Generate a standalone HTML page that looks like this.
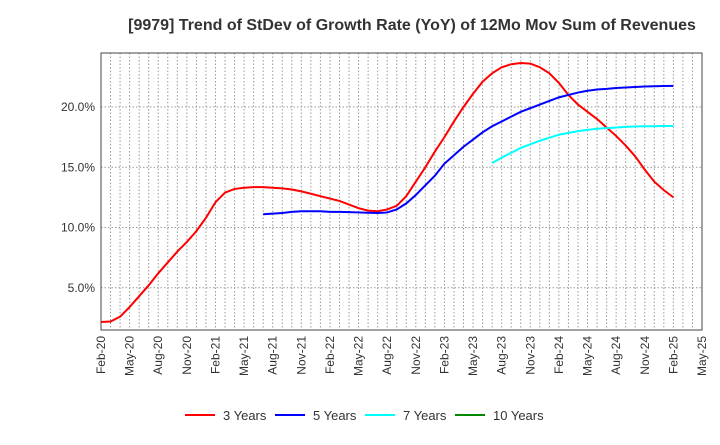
<!DOCTYPE html>
<html><head><meta charset="utf-8"><style>
body{margin:0;background:#fff;font-family:"Liberation Sans",sans-serif}
svg text{font-family:"Liberation Sans",sans-serif}
</style></head><body>
<svg id="chart" width="720" height="440">
<text x="412" y="30" text-anchor="middle" font-size="16" font-weight="bold" fill="#333">[9979]  Trend of StDev of Growth Rate (YoY) of 12Mo Mov Sum of Revenues</text>
<g id="grid"></g><g id="axes"></g><g id="series"></g><g id="legend"></g>
</svg>
<script>
const xTickLabels=["Feb-20","May-20","Aug-20","Nov-20","Feb-21","May-21","Aug-21","Nov-21","Feb-22","May-22","Aug-22","Nov-22","Feb-23","May-23","Aug-23","Nov-23","Feb-24","May-24","Aug-24","Nov-24","Feb-25","May-25"];
const yTicks=[5,10,15,20];
const red=[2.16,2.2,2.6,3.4,4.3,5.2,6.2,7.1,8.0,8.8,9.7,10.8,12.1,12.9,13.2,13.3,13.35,13.35,13.3,13.25,13.15,13.0,12.8,12.6,12.4,12.2,11.9,11.6,11.4,11.35,11.5,11.8,12.6,13.8,15.0,16.3,17.5,18.8,20.0,21.1,22.1,22.8,23.3,23.55,23.65,23.6,23.3,22.8,22.0,21.0,20.2,19.6,19.0,18.3,17.6,16.8,15.9,14.8,13.8,13.1,12.5];
const blueStart=17;
const blue=[11.1,11.15,11.2,11.3,11.35,11.35,11.35,11.3,11.3,11.28,11.25,11.22,11.2,11.25,11.5,12.0,12.7,13.5,14.3,15.3,16.0,16.7,17.3,17.9,18.4,18.8,19.2,19.6,19.9,20.2,20.5,20.8,21.0,21.2,21.35,21.45,21.5,21.58,21.62,21.66,21.7,21.72,21.74,21.75];
const cyanStart=41;
const cyan=[15.35,15.8,16.2,16.6,16.9,17.2,17.45,17.7,17.85,18.0,18.1,18.2,18.25,18.3,18.35,18.38,18.4,18.4,18.42,18.42];
const green=[];
const L=101,R=702,T=53,B=330,NM=63;
const X=i=>L+(R-L)*i/NM;
const Y=v=>348-12.05*v;
const ns="http://www.w3.org/2000/svg";
function mk(tag,attrs,parent){const e=document.createElementNS(ns,tag);for(const k in attrs)e.setAttribute(k,attrs[k]);document.getElementById(parent).appendChild(e);return e;}
for(let m=1;m<NM;m++){const g=mk('line',{x1:X(m),x2:X(m),y1:T,y2:B,stroke:'#999','stroke-dasharray':'1.5,2','stroke-width':1},'grid');

}
yTicks.forEach(v=>{const g=mk('line',{x1:L,x2:R,y1:Y(v),y2:Y(v),stroke:'#999','stroke-dasharray':'1.5,2'},'grid');


const t=mk('text',{x:L-6,y:Y(v)+4,'text-anchor':'end','font-size':12,fill:'#333'},'axes');t.textContent=v.toFixed(1)+'%';

});
const fr=mk('rect',{x:L,y:T,width:R-L,height:B-T,fill:'none',stroke:'#444'},'axes');


xTickLabels.forEach((s,i)=>{const x=X(i*3);const t=mk('text',{transform:`translate(${x+4},${B+6}) rotate(-90)`,'text-anchor':'end','font-size':12,fill:'#333'},'axes');t.textContent=s;

});
function line(arr,start,color,name){if(!arr.length)return;const p=mk('polyline',{points:arr.map((v,i)=>X(start+i)+','+Y(v)).join(' '),fill:'none',stroke:color,'stroke-width':2},'series');

}
line(red,0,'#f00','line-3-years');line(blue,blueStart,'#00f','line-5-years');line(cyan,cyanStart,'#0ff','line-7-years');line(green,0,'#080','line-10-years');
[["3 Years","#f00",185],["5 Years","#00f",275],["7 Years","#0ff",365],["10 Years","#080",455]].forEach(([s,c,x])=>{
const l=mk('line',{x1:x,x2:x+30,y1:415,y2:415,stroke:c,'stroke-width':2},'legend');


const t=mk('text',{x:x+38,y:420,'font-size':13,fill:'#333'},'legend');t.textContent=s;

});
</script>
</body></html>
